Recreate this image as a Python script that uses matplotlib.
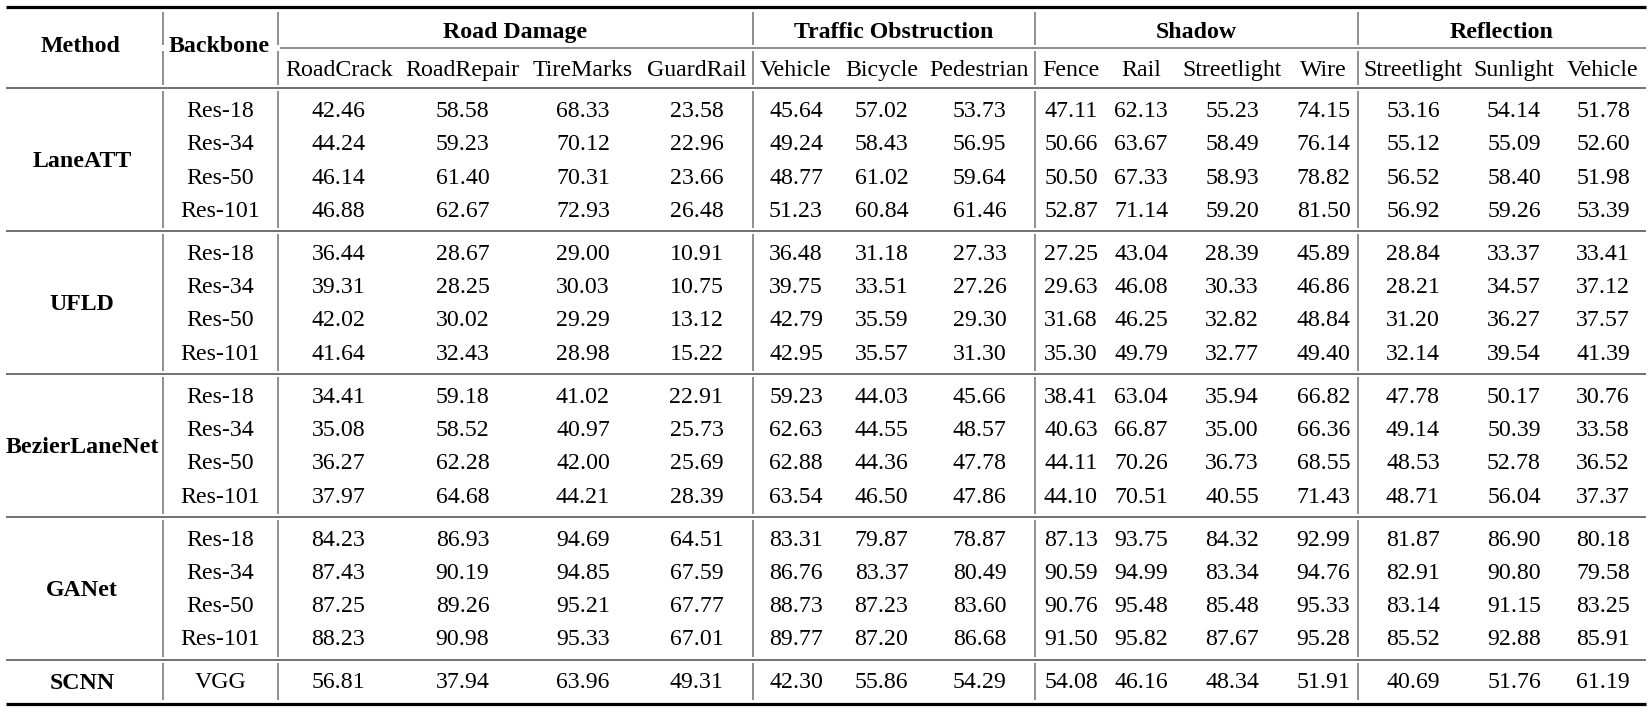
import matplotlib
matplotlib.use('Agg')
import matplotlib.pyplot as plt

plt.rcParams['font.family'] = ['Liberation Serif', 'DejaVu Serif']

# ---- table content ----
groups = ['Road Damage', 'Traffic Obstruction', 'Shadow', 'Reflection']
group_sizes = [4, 3, 4, 3]
subcols = ['RoadCrack', 'RoadRepair', 'TireMarks', 'GuardRail',
           'Vehicle', 'Bicycle', 'Pedestrian',
           'Fence', 'Rail', 'Streetlight', 'Wire',
           'Streetlight', 'Sunlight', 'Vehicle']
methods = ['LaneATT', 'UFLD', 'BezierLaneNet', 'GANet', 'SCNN']
backbones = [['Res-18', 'Res-34', 'Res-50', 'Res-101'],
             ['Res-18', 'Res-34', 'Res-50', 'Res-101'],
             ['Res-18', 'Res-34', 'Res-50', 'Res-101'],
             ['Res-18', 'Res-34', 'Res-50', 'Res-101'],
             ['VGG']]

laneatt = [
    [42.46, 58.58, 68.33, 23.58, 45.64, 57.02, 53.73, 47.11, 62.13, 55.23, 74.15, 53.16, 54.14, 51.78],
    [44.24, 59.23, 70.12, 22.96, 49.24, 58.43, 56.95, 50.66, 63.67, 58.49, 76.14, 55.12, 55.09, 52.60],
    [46.14, 61.40, 70.31, 23.66, 48.77, 61.02, 59.64, 50.50, 67.33, 58.93, 78.82, 56.52, 58.40, 51.98],
    [46.88, 62.67, 72.93, 26.48, 51.23, 60.84, 61.46, 52.87, 71.14, 59.20, 81.50, 56.92, 59.26, 53.39],
]
ufld = [
    [36.44, 28.67, 29.00, 10.91, 36.48, 31.18, 27.33, 27.25, 43.04, 28.39, 45.89, 28.84, 33.37, 33.41],
    [39.31, 28.25, 30.03, 10.75, 39.75, 33.51, 27.26, 29.63, 46.08, 30.33, 46.86, 28.21, 34.57, 37.12],
    [42.02, 30.02, 29.29, 13.12, 42.79, 35.59, 29.30, 31.68, 46.25, 32.82, 48.84, 31.20, 36.27, 37.57],
    [41.64, 32.43, 28.98, 15.22, 42.95, 35.57, 31.30, 35.30, 49.79, 32.77, 49.40, 32.14, 39.54, 41.39],
]
bezier = [
    [34.41, 59.18, 41.02, 22.91, 59.23, 44.03, 45.66, 38.41, 63.04, 35.94, 66.82, 47.78, 50.17, 30.76],
    [35.08, 58.52, 40.97, 25.73, 62.63, 44.55, 48.57, 40.63, 66.87, 35.00, 66.36, 49.14, 50.39, 33.58],
    [36.27, 62.28, 42.00, 25.69, 62.88, 44.36, 47.78, 44.11, 70.26, 36.73, 68.55, 48.53, 52.78, 36.52],
    [37.97, 64.68, 44.21, 28.39, 63.54, 46.50, 47.86, 44.10, 70.51, 40.55, 71.43, 48.71, 56.04, 37.37],
]
ganet = [
    [84.23, 86.93, 94.69, 64.51, 83.31, 79.87, 78.87, 87.13, 93.75, 84.32, 92.99, 81.87, 86.90, 80.18],
    [87.43, 90.19, 94.85, 67.59, 86.76, 83.37, 80.49, 90.59, 94.99, 83.34, 94.76, 82.91, 90.80, 79.58],
    [87.25, 89.26, 95.21, 67.77, 88.73, 87.23, 83.60, 90.76, 95.48, 85.48, 95.33, 83.14, 91.15, 83.25],
    [88.23, 90.98, 95.33, 67.01, 89.77, 87.20, 86.68, 91.50, 95.82, 87.67, 95.28, 85.52, 92.88, 85.91],
]
scnn = [
    [56.81, 37.94, 63.96, 49.31, 42.30, 55.86, 54.29, 54.08, 46.16, 48.34, 51.91, 40.69, 51.76, 61.19],
]
blocks = [laneatt, ufld, bezier, ganet, scnn]

# ---- layout (pixels) ----
W, H = 1652, 712
FS = 17.2
edges = [6, 163, 278, 399, 526, 640, 753, 839, 924, 1035, 1107, 1175, 1289, 1358, 1468, 1560, 1646]
vlines = [163, 278, 753, 1035, 1358]
top_rule, cline_y, head_rule = 7, 48, 88
row_h = 33.3
pad_top, pad_bot = 21, 22
base_off = 7.9   # baseline offset from visual centre
method_x = 82

fig = plt.figure(figsize=(W / 100, H / 100), dpi=100)
ax = fig.add_axes([0, 0, 1, 1])
ax.set_xlim(0, W)
ax.set_ylim(H, 0)
ax.axis('off')

centers = [(edges[i] + edges[i + 1]) / 2 for i in range(len(edges) - 1)]


def put(x, y, s, bold=False):
    ax.text(x, y + base_off, s, ha='center', va='baseline', fontsize=FS,
            fontweight='bold' if bold else 'normal', color='black')


gray = '#707070'
# header
put(method_x - 1, 44, 'Method', bold=True)
put(centers[1] - 1, 44, 'Backbone', bold=True)
ci = 2
for g, n in zip(groups, group_sizes):
    x0, x1 = edges[ci], edges[ci + n]
    put((x0 + x1) / 2, 30, g, bold=True)
    ci += n
for j, s in enumerate(subcols):
    put(centers[2 + j], 68, s)

# body
segments = [(12, cline_y - 3), (cline_y + 3, head_rule - 3)]
y_line = head_rule
rules = []
for b, (m, bbs, vals) in enumerate(zip(methods, backbones, blocks)):
    nrows = len(bbs)
    blk_h = pad_top + pad_bot + row_h * (nrows - 1)
    put(method_x, y_line + blk_h / 2, m, bold=True)
    for r, (bb, row) in enumerate(zip(bbs, vals)):
        yy = y_line + pad_top + r * row_h
        put(centers[1], yy, bb)
        for j, v in enumerate(row):
            put(centers[2 + j], yy, f'{v:.2f}')
    seg_end = y_line + blk_h
    segments.append((y_line + 3, seg_end - 3))
    y_line = seg_end
    if b < len(methods) - 1:
        rules.append(y_line)

bottom_rule = y_line + 1.5

# horizontal rules
ax.plot([edges[0], edges[-1]], [top_rule, top_rule], color='black', lw=2.3, solid_capstyle='butt')
ax.plot([edges[2] + 2, edges[-1]], [cline_y, cline_y], color=gray, lw=1.1, solid_capstyle='butt')
ax.plot([edges[0], edges[-1]], [head_rule, head_rule], color=gray, lw=1.4, solid_capstyle='butt')
for yr in rules:
    ax.plot([edges[0], edges[-1]], [yr, yr], color=gray, lw=1.4, solid_capstyle='butt')
ax.plot([edges[0], edges[-1]], [bottom_rule, bottom_rule], color='black', lw=2.3, solid_capstyle='butt')

# vertical rules (broken at horizontal rules, as in LaTeX)
for xv in vlines:
    for (y0, y1) in segments:
        ax.plot([xv, xv], [y0, y1], color=gray, lw=1.1, solid_capstyle='butt')

fig.savefig('out.png', dpi=100)
